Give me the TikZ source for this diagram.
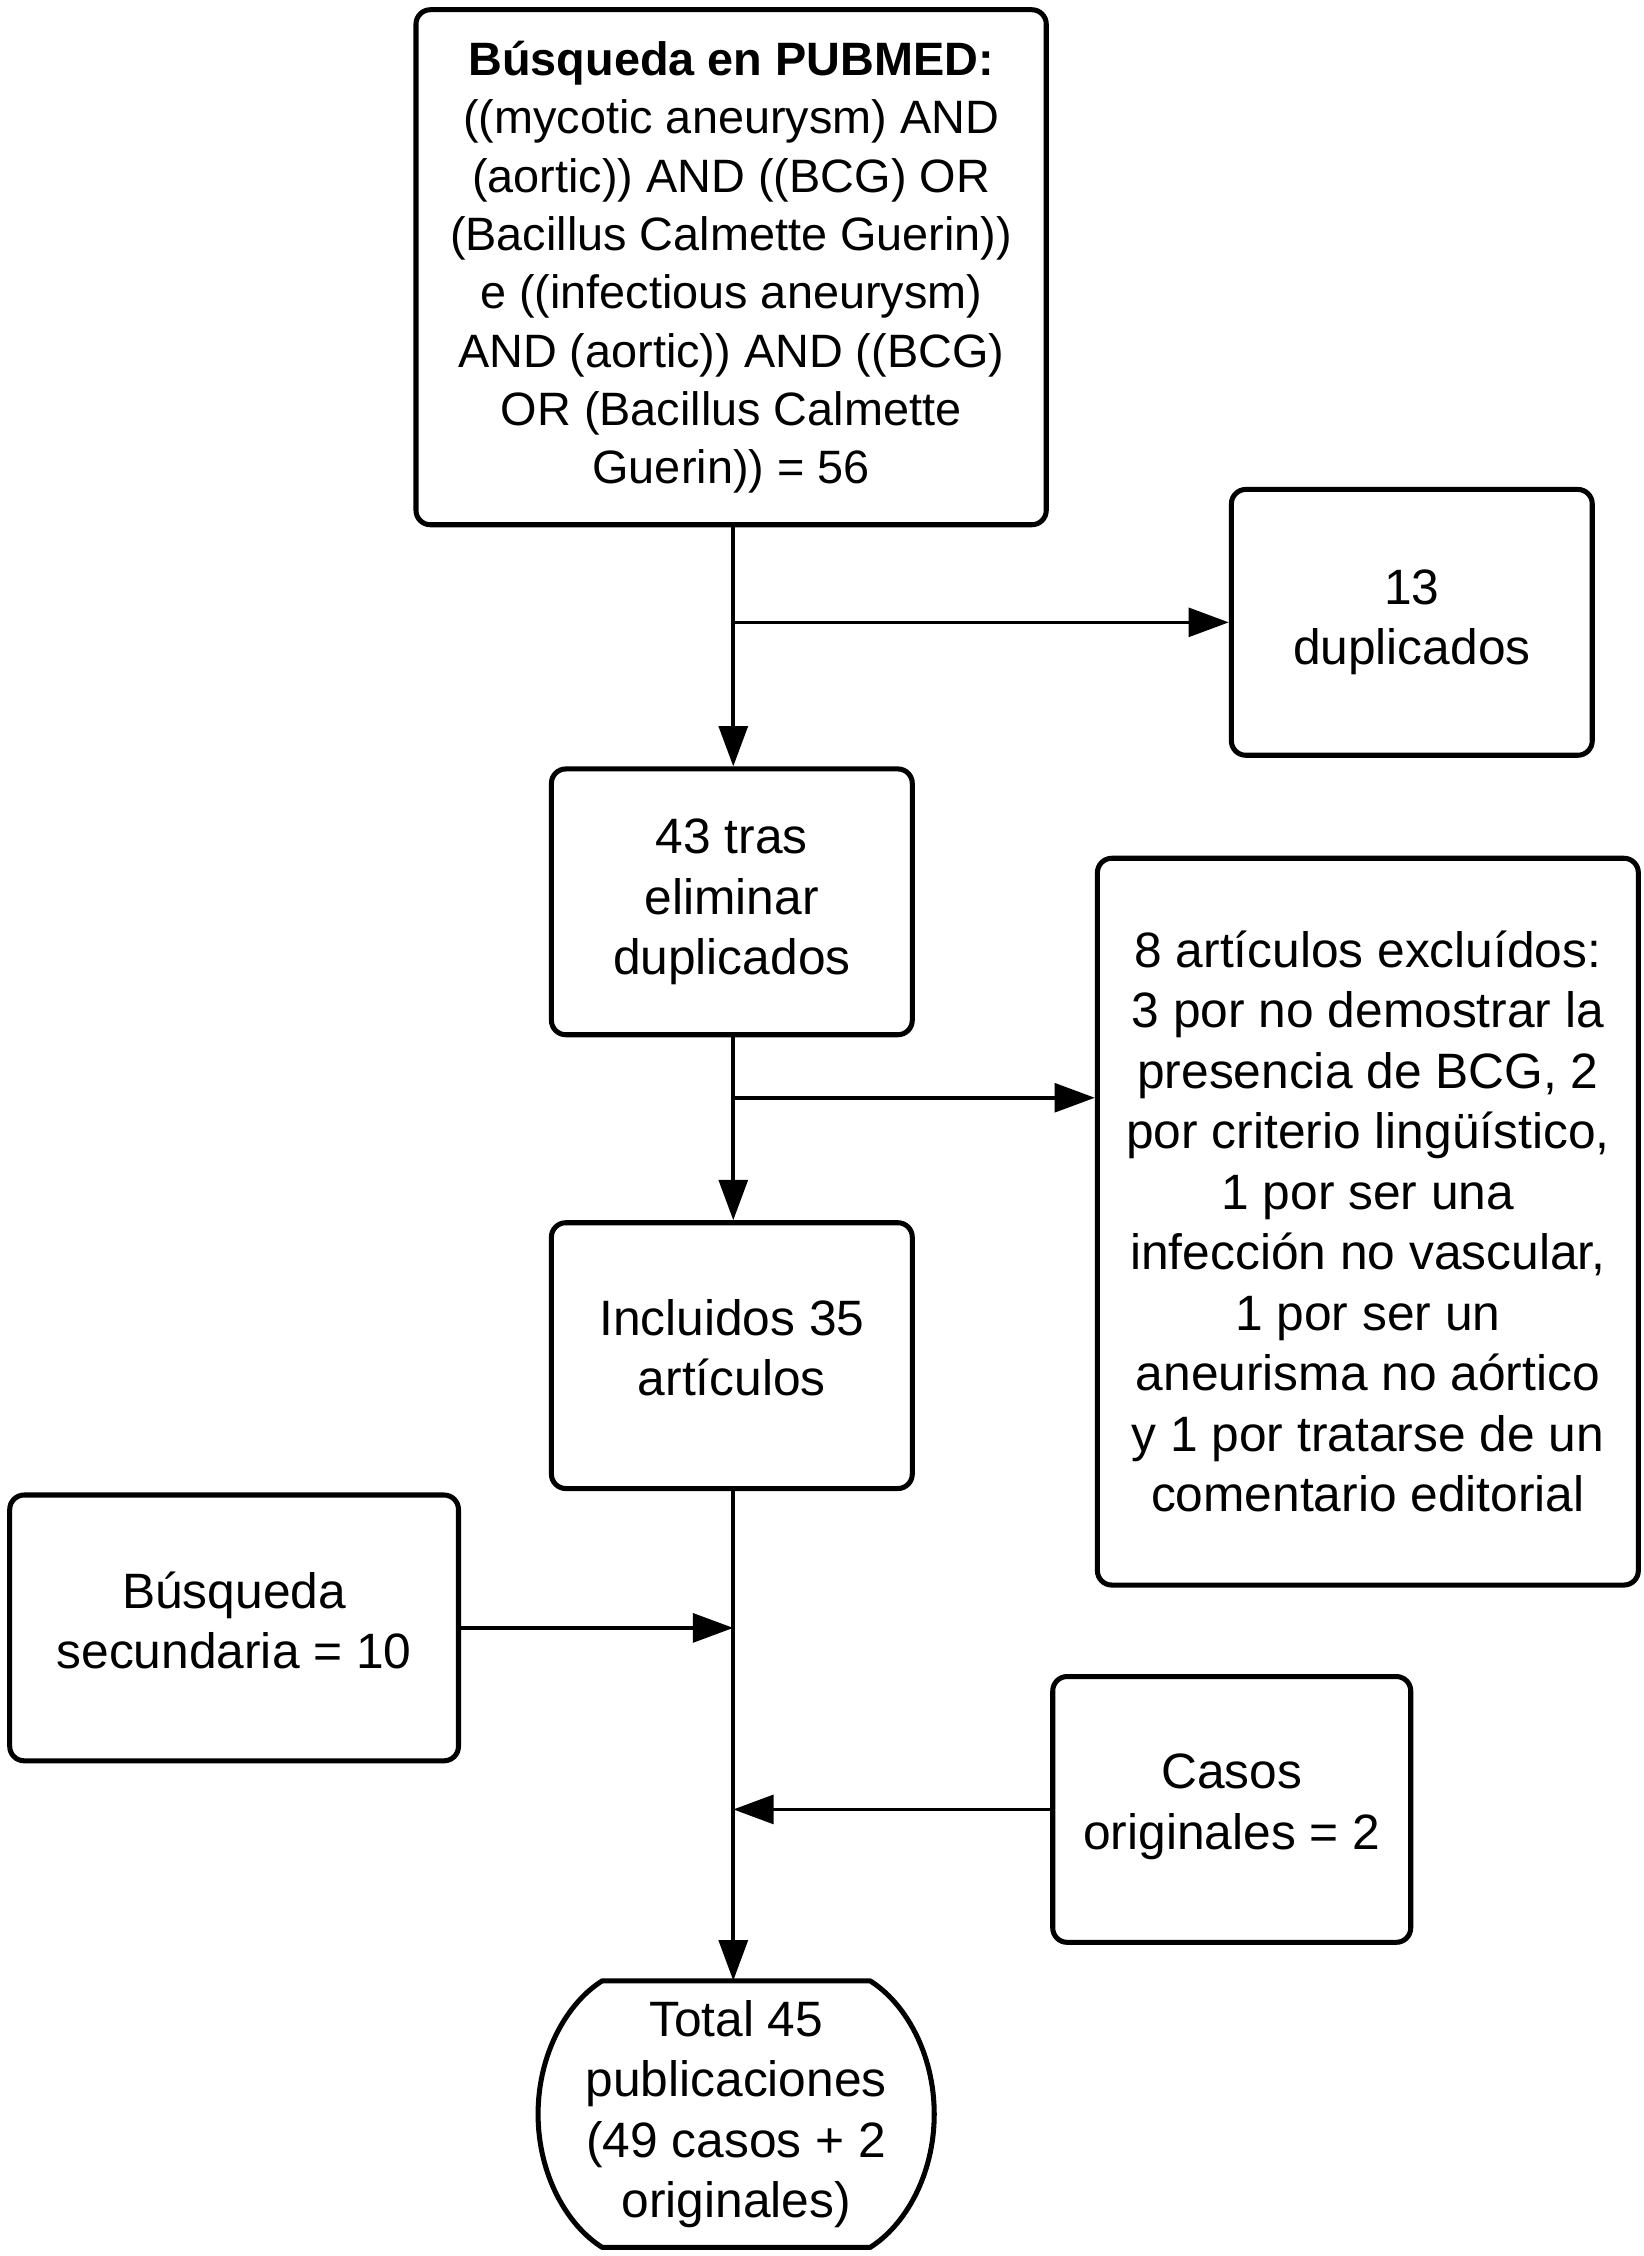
\documentclass[tikz,border=0pt]{standalone}
\usepackage{fontspec}
\setmainfont{Liberation Sans}
\usetikzlibrary{arrows.meta}
\begin{document}
\begin{tikzpicture}[x=1pt,y=-1pt,
 box/.style={draw, line width=3.5pt, rounded corners=10pt, align=center, inner sep=0pt, font=\fontsize{34.5}{42}\selectfont},
 raised/.style={text depth=11pt},
 txt/.style={align=center, inner sep=0pt, font=\fontsize{34.5}{42}\selectfont},
 conn/.style={line width=2.5pt, -{Triangle[length=28pt,width=20pt]}},
 shapeline/.style={line width=3.5pt, line join=round}]
\useasboundingbox (0,0) rectangle (1141,1566);
\node[box, minimum width=437.5pt, minimum height=357.5pt, font=\fontsize{32.5}{40.5}\selectfont] (search) at (507.5,185.5)
 {\textbf{Búsqueda en PUBMED:}\\((mycotic aneurysm) AND\\(aortic)) AND ((BCG) OR\\(Bacillus Calmette Guerin))\\e ((infectious aneurysm)\\AND (aortic)) AND ((BCG)\\OR (Bacillus Calmette\\Guerin)) = 56};
\node[box, minimum width=250.5pt, minimum height=184.5pt] (dup) at (980,432) {13\\duplicados};
\node[box, minimum width=250.5pt, minimum height=184.5pt] (dedup) at (508,626) {43 tras\\eliminar\\duplicados};
\node[box, minimum width=375.5pt, minimum height=504.5pt] (excl) at (949.5,848)
 {8 artículos excluídos:\\3 por no demostrar la\\presencia de BCG, 2\\por criterio lingüístico,\\1 por ser una\\infección no vascular,\\1 por ser un\\aneurisma no aórtico\\y 1 por tratarse de un\\comentario editorial};
\node[box, raised, minimum width=250.5pt, minimum height=184.5pt] (incl) at (508,941) {Incluidos 35\\artículos};
\node[box, raised, minimum width=311.5pt, minimum height=184.5pt] (sec) at (162.5,1130) {Búsqueda\\secundaria = 10};
\node[box, raised, minimum width=248.5pt, minimum height=184.5pt] (casos) at (855,1256) {Casos\\originales = 2};
\node[txt, minimum width=275pt, minimum height=185pt] (total) at (511,1467.5) {Total 45\\publicaciones\\(49 casos + 2\\originales)};
\draw[shapeline] (418,1375) -- (604,1375) .. controls (628,1390) and (648.5,1425) .. (648.5,1467.5)
  .. controls (648.5,1510) and (628,1545) .. (604,1560) -- (418,1560)
  .. controls (394,1545) and (373.5,1510) .. (373.5,1467.5)
  .. controls (373.5,1425) and (394,1390) .. cycle;
\coordinate (b1) at (509,432);
\coordinate (b2) at (509,762);
\coordinate (j1) at (509,1130);
\coordinate (j2) at (509,1256);
\draw[conn] (search.south -| b1) -- (dedup.north -| b1);
\draw[conn] (b1) -- (b1 -| dup.west);
\draw[conn] (dedup.south -| b2) -- (incl.north -| b2);
\draw[conn] (b2) -- (b2 -| excl.west);
\draw[conn] (incl.south -| j1) -- (total.north -| j1);
\draw[conn] (sec.east |- j1) -- (j1);
\draw[conn] (casos.west |- j2) -- (j2);
\end{tikzpicture}
\end{document}
